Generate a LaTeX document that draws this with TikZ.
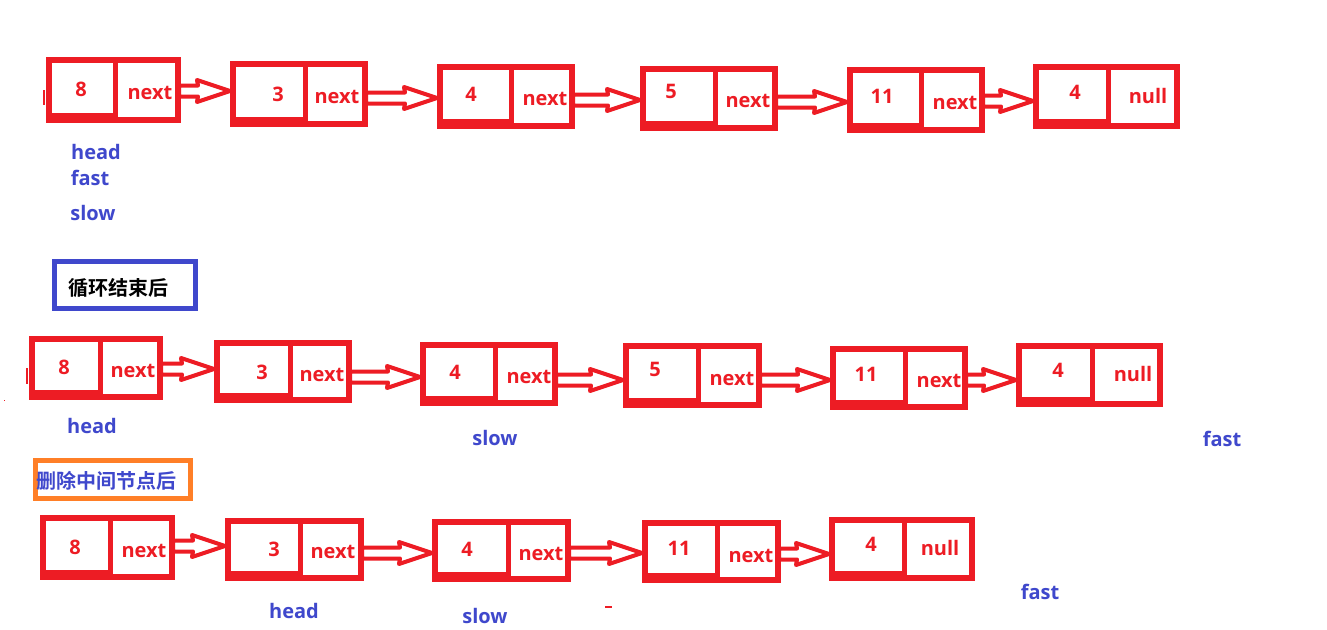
\documentclass[tikz,border=0pt]{standalone}
\usepackage{fontspec}
\setmainfont{Open Sans}
\newfontfamily\cjk{Noto Sans CJK SC}[BoldFont={Noto Sans CJK SC Bold}]
\usetikzlibrary{calc}
\definecolor{pred}{HTML}{ED1C24}
\definecolor{pblue}{HTML}{3F48CC}
\definecolor{porange}{HTML}{FF7F27}
\tikzset{
  elbox/.style={draw=pred, line width=6pt, inner sep=0pt},
  divline/.style={draw=pred, line width=5pt},
  hollow/.style={draw=pred, fill=white, line width=4pt, line join=round},
  celltext/.style={text=pred, font=\fontsize{20}{24}\selectfont\bfseries, inner sep=0pt},
  ptrlabel/.style={text=pblue, font=\fontsize{20}{24}\selectfont\bfseries, inner sep=0pt},
  titlebox/.style={line width=5pt, inner sep=0pt},
}
% name, x1, x2, y1, y2, divider x
\newcommand\elem[6]{%
  \node[elbox, minimum width={#3-#2-6}, minimum height={#5-#4-6}] (#1) at ({(#2+#3)/2},{(#4+#5)/2}) {};
  \draw[divline] (#1.north -| #6,0) -- (#1.south -| #6,0);
  \fill[pred] (#1.south west) rectangle (#6,#5-10);
}
% from, to, y
\newcommand\harrow[3]{%
  \draw[hollow] ($(#1.east |- 0,#3)+(-2,-5.5)$) -- ($(#2.west |- 0,#3)+(-32,-5.5)$) -- ++(-1,-5.5)
    -- (#2.west |- 0,#3) -- ++(-33,11) -- ++(1,-5.5) -- ($(#1.east |- 0,#3)+(-2,5.5)$) -- cycle;
}
\begin{document}
\begin{tikzpicture}[x=1pt,y=-1pt]
\useasboundingbox[fill=white] (0,0) rectangle (1327,629);

% ---------- row 1 ----------
\elem{ra}{46}{181}{57}{123}{115}
\elem{rb}{230}{368}{61}{127}{305}
\elem{rc}{437}{575}{64}{129}{511}
\elem{rd}{640}{778}{66}{131}{715}
\elem{re}{847}{985}{67}{133}{921}
\elem{rf}{1033}{1180}{64}{129}{1108}
\node[celltext] (ra1) at (81,89) {8};   \node[celltext] (ra2) at (150,93) {next};
\node[celltext] (rb1) at (278,94) {3};  \node[celltext] (rb2) at (337,97) {next};
\node[celltext] (rc1) at (471,94) {4};  \node[celltext] (rc2) at (545,99) {next};
\node[celltext] (rd1) at (671,91) {5};  \node[celltext] (rd2) at (748,101) {next};
\node[celltext] (re1) at (882,96) {11}; \node[celltext] (re2) at (955,103) {next};
\node[celltext] (rf1) at (1075,92) {4}; \node[celltext] (rf2) at (1148,96) {null};
\harrow{ra}{rb}{91}
\harrow{rb}{rc}{98}
\harrow{rc}{rd}{100}
\harrow{rd}{re}{102}
\harrow{re}{rf}{101}
\node[ptrlabel] (l1) at (96,152) {head};
\node[ptrlabel] (l2) at (90,178) {fast};
\node[ptrlabel] (l3) at (93,213) {slow};
\draw[pred, line width=2pt] (44,90) -- (44,105);

% ---------- title 1 ----------
\node[titlebox, draw=pblue, minimum width=141, minimum height=47] (t1) at (125,285) {};
\node[font=\cjk\fontsize{20}{22}\selectfont\bfseries, text=black, inner sep=0pt] (t1t) at (118,288) {循环结束后};

% ---------- row 2 ----------
\elem{sa}{29}{163}{336}{400}{100}
\elem{sb}{214}{352}{340}{403}{290}
\elem{sc}{420}{558}{342}{406}{495}
\elem{sd}{623}{762}{343}{408}{698}
\elem{se}{830}{968}{346}{410}{905}
\elem{sf}{1016}{1163}{343}{407}{1092}
\node[celltext] (sa1) at (64,367) {8};   \node[celltext] (sa2) at (133,371) {next};
\node[celltext] (sb1) at (262,372) {3};  \node[celltext] (sb2) at (322,375) {next};
\node[celltext] (sc1) at (455,372) {4};  \node[celltext] (sc2) at (529,377) {next};
\node[celltext] (sd1) at (655,369) {5};  \node[celltext] (sd2) at (732,379) {next};
\node[celltext] (se1) at (866,374) {11}; \node[celltext] (se2) at (939,381) {next};
\node[celltext] (sf1) at (1058,370) {4}; \node[celltext] (sf2) at (1133,374) {null};
\harrow{sa}{sb}{369}
\harrow{sb}{sc}{377}
\harrow{sc}{sd}{380}
\harrow{sd}{se}{380}
\harrow{se}{sf}{380}
\node[ptrlabel] (m1) at (92,426) {head};
\node[ptrlabel] (m2) at (495,438) {slow};
\node[ptrlabel] (m3) at (1222,439) {fast};
\draw[pred, line width=1.5pt] (27,368) -- (27,384);
\fill[pred] (3.5,399.5) rectangle (5,401);

% ---------- title 2 ----------
\node[titlebox, draw=porange, minimum width=155, minimum height=38] (t2) at (113,479) {};
\node[font=\cjk\fontsize{20}{22}\selectfont\bfseries, text=pblue, inner sep=0pt] (t2t) at (106,481) {删除中间节点后};

% ---------- row 3 ----------
\elem{ta}{40}{175}{515}{580}{110}
\elem{tb}{225}{364}{518}{581}{300}
\elem{tc}{432}{571}{519}{582}{508}
\elem{td}{642}{781}{520}{583}{717}
\elem{te}{829}{975}{517}{581}{904}
\node[celltext] (ta1) at (75,547) {8};   \node[celltext] (ta2) at (144,551) {next};
\node[celltext] (tb1) at (274,549) {3};  \node[celltext] (tb2) at (333,552) {next};
\node[celltext] (tc1) at (467,549) {4};  \node[celltext] (tc2) at (541,554) {next};
\node[celltext] (td1) at (679,548) {11}; \node[celltext] (td2) at (751,556) {next};
\node[celltext] (te1) at (871,544) {4};  \node[celltext] (te2) at (940,548) {null};
\harrow{ta}{tb}{546}
\harrow{tb}{tc}{553}
\harrow{tc}{td}{553}
\harrow{td}{te}{554}
\node[ptrlabel] (n1) at (294,611) {head};
\node[ptrlabel] (n2) at (485,616) {slow};
\node[ptrlabel] (n3) at (1040,592) {fast};
\draw[pred, line width=1.5pt] (605,607) -- (612,607);
\end{tikzpicture}
\end{document}
